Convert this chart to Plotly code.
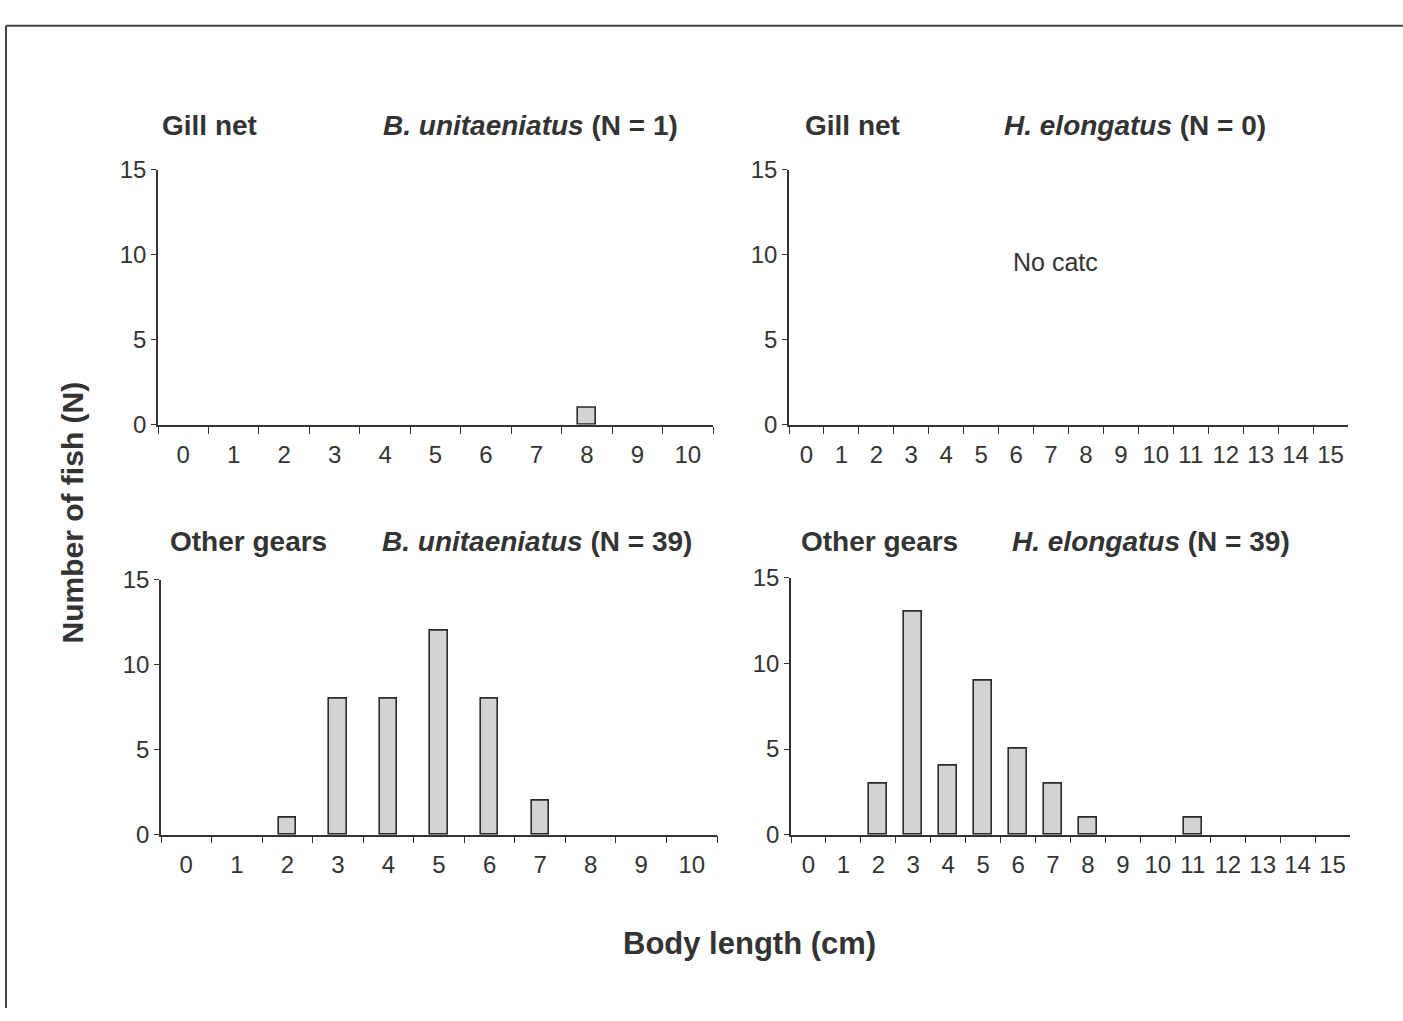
import plotly.graph_objects as go

W, H = 1403, 1021

# ---- data ----
cats_b = [str(i) for i in range(0, 11)]
cats_h = [str(i) for i in range(0, 16)]
b_gill = [0, 0, 0, 0, 0, 0, 0, 0, 1, 0, 0]
h_gill = [0] * 16
b_other = [0, 0, 1, 8, 8, 12, 8, 2, 0, 0, 0]
h_other = [0, 0, 3, 13, 4, 9, 5, 3, 1, 0, 0, 1, 0, 0, 0, 0]
y_ticks = [0, 5, 10, 15]

gear_titles = ["Gill net", "Gill net", "Other gears", "Other gears"]
species_titles = [
    "<b><i>B. unitaeniatus</i> (N = 1)</b>",
    "<b><i>H. elongatus</i> (N = 0)</b>",
    "<b><i>B. unitaeniatus</i> (N = 39)</b>",
    "<b><i>H. elongatus</i> (N = 39)</b>",
]

FONT = "Liberation Sans, Arial, sans-serif"
TXT = "#333333"
AX = "#333333"


def px(x):
    return x / W


def py(y):
    return 1 - y / H


# panel pixel boxes: (x0, x1, ytop, ybottom)
boxes = [
    (158, 713, 160, 422),
    (789, 1348, 160, 422),
    (161, 717, 581, 843),
    (791, 1350, 579, 843),
]
panels = [
    (cats_b, b_gill, 0.36),
    (cats_h, h_gill, 0.52),
    (cats_b, b_other, 0.34),
    (cats_h, h_other, 0.52),
]

fig = go.Figure()
layout = dict(
    width=W, height=H,
    margin=dict(l=0, r=0, t=0, b=0),
    paper_bgcolor="white", plot_bgcolor="white",
    showlegend=False,
    font=dict(family=FONT, color=TXT),
    bargap=0,
)

annotations = []
for i, ((x0, x1, yt, yb), (cats, vals, bw)) in enumerate(zip(boxes, panels)):
    n = "" if i == 0 else str(i + 1)
    fig.add_trace(go.Bar(
        x=cats, y=vals, width=[bw] * len(cats),
        marker=dict(color="#d3d3d3",
                    line=dict(color="#2a2a2a",
                              width=[1.6 if v > 0 else 0 for v in vals])),
        xaxis="x" + n, yaxis="y" + n, hoverinfo="skip",
    ))
    layout["xaxis" + n] = dict(
        domain=[px(x0), px(x1)], anchor="y" + n, type="category",
        categoryorder="array", categoryarray=cats,
        range=[-0.5, len(cats) - 0.5],
        showline=True, linecolor=AX, linewidth=1.5,
        ticks="outside", tickson="boundaries", ticklen=7, tickwidth=1.3, tickcolor=AX,
        tickfont=dict(size=24, color=TXT, family=FONT),
        tickangle=0, ticklabelstandoff=8,
        showgrid=False, zeroline=False, fixedrange=True,
    )
    layout["yaxis" + n] = dict(
        domain=[py(yb), py(yt)], anchor="x" + n,
        range=[0, 15], tickvals=y_ticks,
        showline=True, linecolor=AX, linewidth=1.5,
        ticks="outside", ticklen=5, tickwidth=1.3, tickcolor=AX,
        tickfont=dict(size=24, color=TXT, family=FONT),
        showgrid=False, zeroline=False, fixedrange=True,
    )

# titles
title_pos = [
    (160, 680, 115),
    (803, 1268, 115),
    (168, 694, 542),
    (799, 1292, 542),
]
for (gx, sx, ty), g, s in zip(title_pos, gear_titles, species_titles):
    annotations.append(dict(
        x=px(gx), y=py(ty), xref="paper", yref="paper",
        xanchor="left", yanchor="middle", text="<b>" + g + "</b>",
        showarrow=False, font=dict(size=28, color=TXT, family=FONT),
    ))
    annotations.append(dict(
        x=px(sx), y=py(ty), xref="paper", yref="paper",
        xanchor="right", yanchor="middle", text=s,
        showarrow=False, font=dict(size=28, color=TXT, family=FONT),
    ))

annotations.append(dict(
    x=px(1055), y=py(255), xref="paper", yref="paper",
    xanchor="center", yanchor="middle", text="No catc",
    showarrow=False, font=dict(size=25, color=TXT, family=FONT),
))
annotations.append(dict(
    x=px(750), y=py(955), xref="paper", yref="paper",
    xanchor="center", yanchor="middle", text="<b>Body length (cm)</b>",
    showarrow=False, font=dict(size=31, color=TXT, family=FONT),
))
annotations.append(dict(
    x=px(72), y=py(512), xref="paper", yref="paper",
    xanchor="center", yanchor="middle", text="<b>Number of fish (N)</b>",
    textangle=-90, showarrow=False, font=dict(size=30, color=TXT, family=FONT),
))
layout["annotations"] = annotations

# outer frame (only top and left edges visible in the reference)
layout["shapes"] = [
    dict(type="line", xref="paper", yref="paper", x0=px(6), x1=1, y0=py(12), y1=py(12),
         line=dict(color="#444444", width=2)),
    dict(type="line", xref="paper", yref="paper", x0=px(6), x1=px(6), y0=py(12), y1=0,
         line=dict(color="#444444", width=2)),
]

fig.update_layout(**layout)
fig.write_html("out.html")
